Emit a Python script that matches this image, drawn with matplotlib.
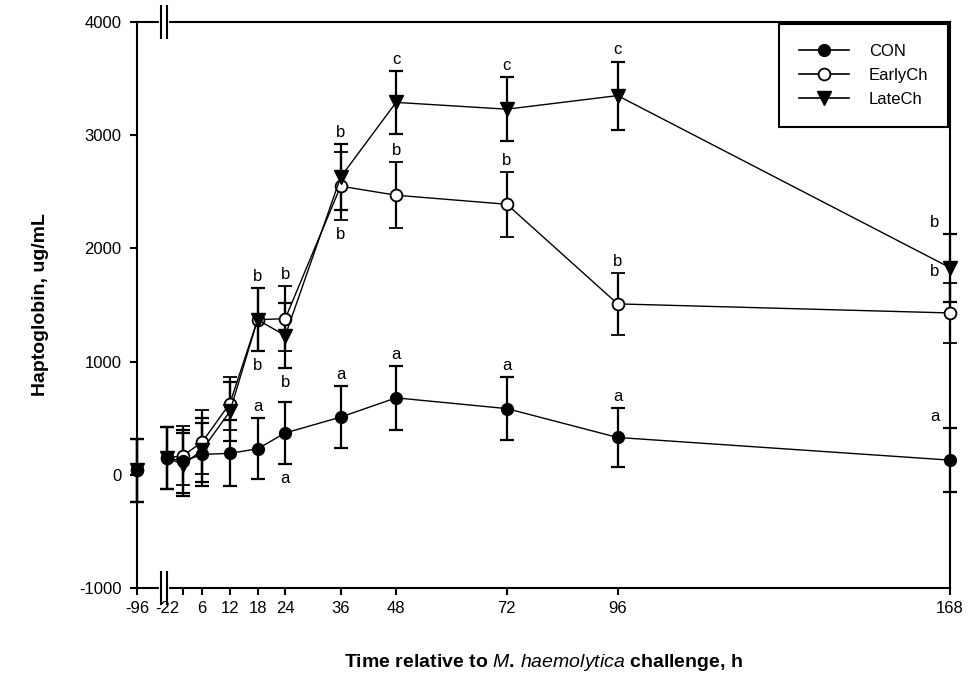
import numpy as np
import matplotlib
matplotlib.use("Agg")
import matplotlib.pyplot as plt
from matplotlib.lines import Line2D
from matplotlib.ticker import FixedLocator, FixedFormatter
import matplotlib.transforms as mtransforms

plt.rcParams['font.family'] = ['Liberation Sans', 'DejaVu Sans']
plt.rcParams['mathtext.fontset'] = 'custom'
plt.rcParams['mathtext.it'] = 'Liberation Sans:italic'
plt.rcParams['mathtext.rm'] = 'Liberation Sans:bold'
plt.rcParams['axes.unicode_minus'] = False

# sampling times (h relative to challenge)
times = [-96, -22, 0, 6, 12, 18, 24, 36, 48, 72, 96, 168]
tick_labels = ['-96', '-22', '', '6', '12', '18', '24', '36', '48', '72', '96', '168']

# haptoglobin, ug/mL (mean and SE)
con_mean = [40, 150, 120, 180, 190, 230, 370, 510, 680, 585, 330, 130]
con_se = [280, 275, 280, 280, 290, 270, 275, 275, 280, 280, 262, 283]
early_mean = [40, 150, 170, 290, 630, 1370, 1380, 2550, 2470, 2390, 1510, 1430]
early_se = [280, 275, 260, 280, 230, 280, 285, 300, 290, 285, 275, 265]
late_mean = [40, 150, 90, 220, 560, 1370, 1230, 2630, 3290, 3230, 3350, 1830]
late_se = [280, 275, 280, 280, 260, 280, 290, 290, 280, 280, 300, 300]

# significance letters
con_letters = ['', '', '', '', '', 'a', 'a', 'a', 'a', 'a', 'a', 'a']
early_letters = ['', '', '', '', '', 'b', 'b', 'b', 'b', 'b', 'b', 'b']
late_letters = ['', '', '', '', '', 'b', 'b', 'b', 'c', 'c', 'c', 'b']
con_below = [24]
early_below = [18, 36]
late_below = [24]

# broken, uneven time axis
t_knots = [-96, -22, 0, 6, 168]
u_knots = [0, 30, 46, 65, 811]


def _interp_ext(x, xp, fp):
    x = np.asarray(x, dtype=float)
    y = np.interp(x, xp, fp)
    lo_slope = (fp[1] - fp[0]) / (xp[1] - xp[0])
    hi_slope = (fp[-1] - fp[-2]) / (xp[-1] - xp[-2])
    y = np.where(x < xp[0], fp[0] + (x - xp[0]) * lo_slope, y)
    y = np.where(x > xp[-1], fp[-1] + (x - xp[-1]) * hi_slope, y)
    return y


def forward(t):
    return _interp_ext(t, t_knots, u_knots)


def inverse(u):
    return _interp_ext(u, u_knots, t_knots)


fig = plt.figure(figsize=(9.69, 6.88), dpi=100)
ax = fig.add_axes([0.1414, 0.1453, 0.8390, 0.8227])
ax.set_xscale('function', functions=(forward, inverse))

series = [
    ("EarlyCh", early_mean, early_se, dict(marker='o', mfc='white', mec='black', ms=8.5, mew=1.3), early_letters, early_below),
    ("LateCh", late_mean, late_se, dict(marker='v', mfc='black', mec='black', ms=9.5), late_letters, late_below),
    ("CON", con_mean, con_se, dict(marker='o', mfc='black', mec='black', ms=8.5), con_letters, con_below),
]

handles = {}
for name, mean, se, mstyle, letters, below in series:
    # break the line at the axis break
    ax.errorbar(times[:1], mean[:1], yerr=se[:1], color='black', lw=1.0, elinewidth=1.6,
                capsize=5, capthick=1.6, clip_on=False, zorder=3, **mstyle)
    ax.errorbar(times[1:], mean[1:], yerr=se[1:], color='black', lw=1.0, elinewidth=1.6,
                capsize=5, capthick=1.6, clip_on=False, zorder=3, **mstyle)
    handles[name] = Line2D([], [], color='black', lw=1.2, **mstyle)
    for t, m, s, lab in zip(times, mean, se, letters):
        if not lab:
            continue
        dx = -11 if t == 168 else 0
        if t in below:
            ax.annotate(lab, (t, m - s), xytext=(dx, -5), textcoords='offset points',
                        ha='center', va='top', fontsize=12)
        else:
            ax.annotate(lab, (t, m + s), xytext=(dx, 3), textcoords='offset points',
                        ha='center', va='bottom', fontsize=12)

ax.set_xlim(-96, 168)
ax.set_ylim(-1000, 4000)
ax.xaxis.set_major_locator(FixedLocator(times))
ax.xaxis.set_major_formatter(FixedFormatter(tick_labels))
ax.xaxis.set_minor_locator(FixedLocator([]))
ax.set_yticks([-1000, 0, 1000, 2000, 3000, 4000])
ax.tick_params(axis='both', direction='out', length=5, width=1.5, labelsize=12)
ax.tick_params(axis='x', pad=4)
ax.tick_params(axis='y', pad=6)
for sp in ax.spines.values():
    sp.set_linewidth(1.5)

# axis break marks
trans = mtransforms.blended_transform_factory(ax.transData, ax.transAxes)
for yb in (0, 1):
    ax.plot([-37, -22], [yb, yb], color='white', lw=3, transform=trans, clip_on=False, zorder=4)
    for xb in (-37, -22):
        ax.plot([xb, xb], [yb - 0.028, yb + 0.028], color='black', lw=1.5,
                transform=trans, clip_on=False, zorder=5)

ax.set_ylabel('Haptoglobin, ug/mL', fontsize=14, fontweight='bold', labelpad=22)
ax.set_xlabel(r'Time relative to $\mathit{M.\,haemolytica}$ challenge, h',
              fontsize=14, fontweight='bold', labelpad=26)

leg = ax.legend([handles['CON'], handles['EarlyCh'], handles['LateCh']],
                ['CON', 'EarlyCh', 'LateCh'], loc='upper right', fontsize=12,
                frameon=True, fancybox=False, edgecolor='black', framealpha=1,
                borderaxespad=0.1, handlelength=3.0, labelspacing=0.55,
                borderpad=1.2, handletextpad=1.2)
leg.get_frame().set_linewidth(1.5)

fig.savefig('out.png', dpi=100)
